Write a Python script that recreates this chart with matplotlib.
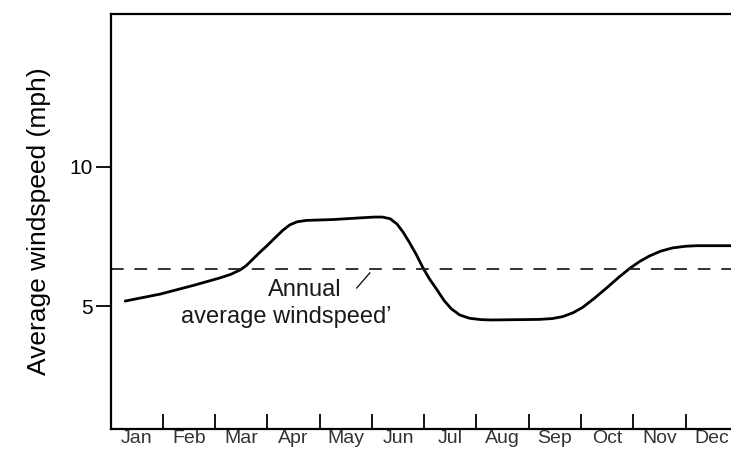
import numpy as np
import matplotlib.pyplot as plt

# monthly windspeed curve (x in months from start of Jan, y in mph)
months = ['Jan', 'Feb', 'Mar', 'Apr', 'May', 'Jun',
          'Jul', 'Aug', 'Sep', 'Oct', 'Nov', 'Dec']
curve_x = [0.28, 0.95, 1.58, 2.09, 2.30, 2.48, 2.60, 2.72, 2.85, 3.00,
           3.15, 3.30, 3.43, 3.57, 3.75, 4.25, 4.77, 5.05, 5.20, 5.35,
           5.48, 5.60, 5.72, 5.85, 5.97, 6.10, 6.24, 6.38, 6.52, 6.68,
           6.87, 7.10, 7.30, 8.20, 8.45, 8.65, 8.85, 9.03, 9.25, 9.49,
           9.72, 9.93, 10.12, 10.31, 10.52, 10.75, 11.00, 11.21, 11.87]
curve_y = [5.18, 5.43, 5.74, 6.01, 6.14, 6.30, 6.46, 6.68, 6.92, 7.18,
           7.46, 7.73, 7.92, 8.03, 8.08, 8.11, 8.17, 8.20, 8.20, 8.14,
           7.95, 7.65, 7.28, 6.85, 6.40, 5.98, 5.60, 5.20, 4.90, 4.68,
           4.56, 4.51, 4.50, 4.52, 4.55, 4.62, 4.76, 4.95, 5.27, 5.65,
           6.03, 6.35, 6.60, 6.80, 6.97, 7.09, 7.15, 7.17, 7.17]
annual_avg = 6.33
yticks = [5, 10]

plt.rcParams['font.family'] = ['Liberation Sans', 'DejaVu Sans']

fig = plt.figure(figsize=(7.31, 4.57), dpi=100)
ax = fig.add_axes([0.1512, 0.0613, 0.8488, 0.908])
ax.set_xlim(0, 11.87)
ax.set_ylim(0.58, 15.5)

ax.plot(curve_x, curve_y, color='black', lw=2.0,
        solid_capstyle='round', solid_joinstyle='round')
ax.axhline(annual_avg, color='#222222', lw=1.3, dashes=(7, 6))

# label for the dashed line with a short leader
ax.text(3.72, 5.58, 'Annual', ha='center', va='center', fontsize=17,
        color='#1a1a1a')
ax.text(3.37, 4.62, 'average windspeed\u2019', ha='center', va='center',
        fontsize=17, color='#1a1a1a')
ax.plot([4.71, 4.96], [5.65, 6.19], color='#1a1a1a', lw=1.0)

ax.spines['right'].set_visible(False)
for side in ['left', 'top', 'bottom']:
    ax.spines[side].set_linewidth(1.6)

ax.set_yticks(yticks)
ax.set_yticklabels([str(v) for v in yticks])
ax.tick_params(axis='y', direction='out', length=11, width=1.3,
               labelsize=15, pad=2)

ax.set_xticks(np.arange(1, 12))
ax.set_xticklabels([])
ax.tick_params(axis='x', which='major', direction='in', length=11, width=1.3)
ax.set_xticks(np.arange(12) + 0.5, minor=True)
ax.set_xticklabels(months, minor=True)
ax.tick_params(axis='x', which='minor', length=0, labelsize=14, pad=1,
               labelcolor='#333333')

ax.set_ylabel('Average windspeed (mph)', fontsize=19, labelpad=13)

fig.savefig('out.png', dpi=100)
